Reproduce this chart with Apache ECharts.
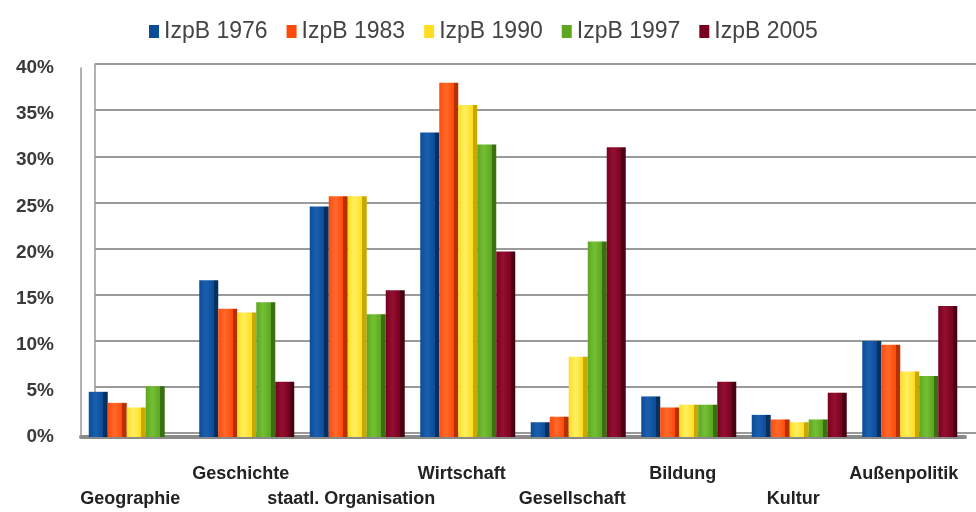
<!DOCTYPE html>
<html>
<head>
<meta charset="utf-8">
<script src="https://cdn.jsdelivr.net/npm/echarts@6/dist/echarts.min.js"></script>
<style>
html,body{margin:0;padding:0;background:#fff;}
#main{width:976px;height:512px;}
</style>
</head>
<body>
<div id="main"></div>
<script>
var categories = ['Geographie','Geschichte','staatl. Organisation','Wirtschaft','Gesellschaft','Bildung','Kultur','Außenpolitik'];
var seriesNames = ['IzpB 1976','IzpB 1983','IzpB 1990','IzpB 1997','IzpB 2005'];
var izpb1976 = [4.9, 17.0, 25.0, 33.0, 1.6, 4.4, 2.4, 10.4];
var izpb1983 = [3.7, 13.9, 26.1, 38.4, 2.2, 3.2, 1.9, 10.0];
var izpb1990 = [3.2, 13.5, 26.1, 36.0, 8.7, 3.5, 1.6, 7.1];
var izpb1997 = [5.5, 14.6, 13.3, 31.7, 21.2, 3.5, 1.9, 6.6];
var izpb2005 = [null, 6.0, 15.9, 20.1, 31.4, 6.0, 4.8, 14.2];
var yTicks = [0, 5, 10, 15, 20, 25, 30, 35, 40];

var colors = [
  {base:'#0b4c98', light:'#1a5fae', dark:'#06305f'},
  {base:'#ff4a0c', light:'#ff6a2a', dark:'#b83000'},
  {base:'#ffdd22', light:'#fff060', dark:'#c9a800'},
  {base:'#5ca622', light:'#74c034', dark:'#3a7010'},
  {base:'#7a0020', light:'#931030', dark:'#4a0010'}
];
function grad(c){
  return new echarts.graphic.LinearGradient(0,0,1,0,[
    {offset:0,color:c.base},
    {offset:0.35,color:c.light},
    {offset:0.76,color:c.base},
    {offset:0.77,color:c.dark},
    {offset:1,color:c.dark}
  ]);
}
var allData = [izpb1976, izpb1983, izpb1990, izpb1997, izpb2005];
var series = allData.map(function(d,i){
  return {
    name: seriesNames[i],
    type: 'bar',
    xAxisIndex: 0, yAxisIndex: 0,
    data: d,
    barWidth: 19,
    barGap: '0%',
    itemStyle: {color: grad(colors[i])}
  };
});

var chart = echarts.init(document.getElementById('main'));
chart.setOption({
  animation: false,
  color: colors.map(function(c){return c.base;}),
  legend: {
    data: seriesNames.map(function(n,i){return {name:n, itemStyle:{color:colors[i].base}};}),
    left: 144, top: 15,
    itemWidth: 10, itemHeight: 13, itemGap: 19,
    icon: 'rect',
    textStyle: {fontFamily:'Liberation Sans, Arial, sans-serif', fontSize: 23, color:'#444'}
  },
  grid: [
    {left: 81, right: 11, top: 68, bottom: 75},
    {left: 95, right: 0, top: 64, bottom: 79}
  ],
  xAxis: [
    {
      type: 'category', gridIndex: 0, data: categories,
      axisLine: {show:true, lineStyle:{color:'#8a8a8a', width:4}},
      axisTick: {show:false},
      axisLabel: {
        interval: 0, margin: 25,
        fontFamily:'Liberation Sans, Arial, sans-serif', fontSize: 18, fontWeight:'bold', color:'#222',
        lineHeight: 25, padding:[0,12,0,0],
        formatter: function(v, idx){ return idx % 2 === 0 ? '\n' + v : v; }
      }
    },
    {
      type: 'category', gridIndex: 1, data: categories, show: false
    }
  ],
  yAxis: [
    {
      type: 'value', gridIndex: 0, min: 0, max: 40, interval: 5,
      axisLine: {show:true, lineStyle:{color:'#999', width:1.5}},
      axisTick: {show:false},
      splitLine: {show:false},
      axisLabel: {
        margin: 27, fontFamily:'Liberation Sans, Arial, sans-serif', fontSize: 19, fontWeight:'bold', color:'#3a3a3a',
        padding:[8,0,0,0],
        formatter: function(v){ return yTicks.indexOf(v) >= 0 ? v + '%' : ''; }
      }
    },
    {
      type: 'value', gridIndex: 1, min: 0, max: 40, interval: 5,
      axisLine: {show:true, lineStyle:{color:'#999', width:1.5}},
      axisTick: {show:false},
      axisLabel: {show:false},
      splitLine: {show:true, lineStyle:{color:'#9a9a9a', width:2}}
    }
  ],
  series: series
});
</script>
</body>
</html>
